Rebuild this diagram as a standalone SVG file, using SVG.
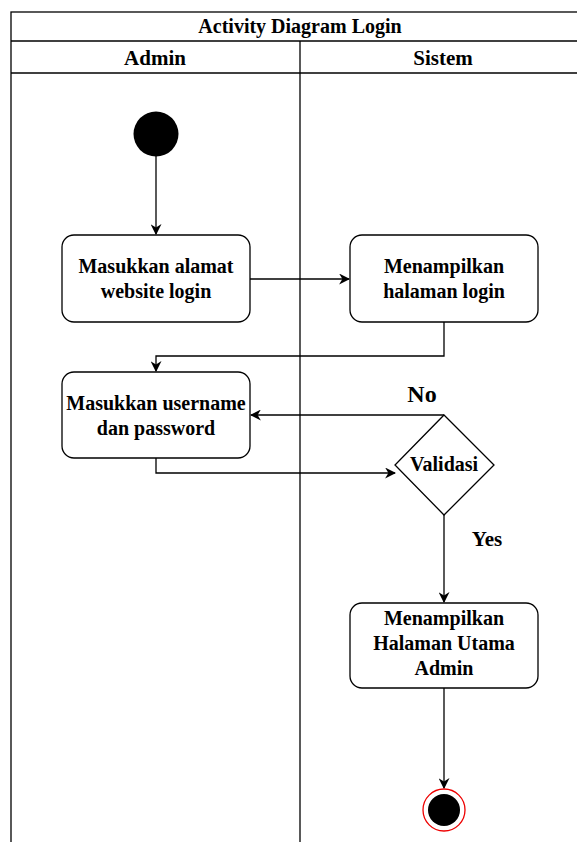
<svg xmlns="http://www.w3.org/2000/svg" width="577" height="842" viewBox="0 0 577 842">
<style>
.frame{fill:none;stroke:#000;stroke-width:1.3}
.act{fill:#fff;stroke:#000;stroke-width:1.3}
.t{font-family:"Liberation Serif","Times New Roman",serif;font-weight:bold;fill:#000;text-anchor:middle}
.b{font-size:20px}
.edge{fill:none;stroke:#000;stroke-width:1.3}
</style>
<defs>
<marker id="arr" viewBox="0 0 10 10" refX="9" refY="5" markerWidth="11" markerHeight="11" markerUnits="userSpaceOnUse" orient="auto">
<path d="M0,0 L10,5 L0,10 L3,5 Z" fill="#000"/>
</marker>
</defs>
<rect width="577" height="842" fill="#fff"/>
<g id="lanes">
<rect class="frame" x="11" y="12" width="580" height="850"/>
<line class="frame" x1="11" y1="41" x2="591" y2="41"/>
<line class="frame" x1="11" y1="73" x2="591" y2="73"/>
<line class="frame" x1="300" y1="41" x2="300" y2="862"/>
<text class="t" x="300" y="33" font-size="20">Activity Diagram Login</text>
<text class="t" x="155" y="65" font-size="21">Admin</text>
<text class="t" x="443" y="65" font-size="21">Sistem</text>
</g>
<g id="connectors">
<line class="edge" x1="156" y1="156" x2="156" y2="234" marker-end="url(#arr)"/>
<line class="edge" x1="250" y1="279" x2="349" y2="279" marker-end="url(#arr)"/>
<polyline class="edge" points="444,322 444,356 156,356 156,371" marker-end="url(#arr)"/>
<polyline class="edge" points="156,458 156,473 395,473" marker-end="url(#arr)"/>
<polyline class="edge" points="444,415 251,415" marker-end="url(#arr)"/>
<line class="edge" x1="444" y1="515" x2="444" y2="602" marker-end="url(#arr)"/>
<line class="edge" x1="444" y1="688" x2="444" y2="788" marker-end="url(#arr)"/>
<text class="t" x="422" y="402" font-size="24">No</text>
<text class="t" x="487" y="546" font-size="21">Yes</text>
</g>
<g id="start">
<circle cx="156" cy="134" r="22.5" fill="#000"/>
</g>
<g id="a1">
<rect class="act" x="62" y="235" width="188" height="87" rx="12"/>
<text class="t b" x="156" y="273">Masukkan alamat</text>
<text class="t b" x="156" y="298">website login</text>
</g>
<g id="a2">
<rect class="act" x="350" y="235" width="188" height="87" rx="12"/>
<text class="t b" x="444" y="273">Menampilkan</text>
<text class="t b" x="444" y="298">halaman login</text>
</g>
<g id="a3">
<rect class="act" x="62" y="372" width="188" height="86" rx="12"/>
<text class="t b" x="156" y="410">Masukkan username</text>
<text class="t b" x="156" y="435">dan password</text>
</g>
<g id="d1">
<polygon class="act" points="444,415 494,465 444,515 395,465"/>
<text class="t b" x="444" y="471">Validasi</text>
</g>
<g id="a4">
<rect class="act" x="350" y="603" width="188" height="85" rx="12"/>
<text class="t b" x="444" y="625">Menampilkan</text>
<text class="t b" x="444" y="650">Halaman Utama</text>
<text class="t b" x="444" y="675">Admin</text>
</g>
<g id="end">
<circle cx="444" cy="810" r="21" fill="#fff" stroke="#e00" stroke-width="1.3"/>
<circle cx="444" cy="810" r="16" fill="#000"/>
</g>
</svg>
